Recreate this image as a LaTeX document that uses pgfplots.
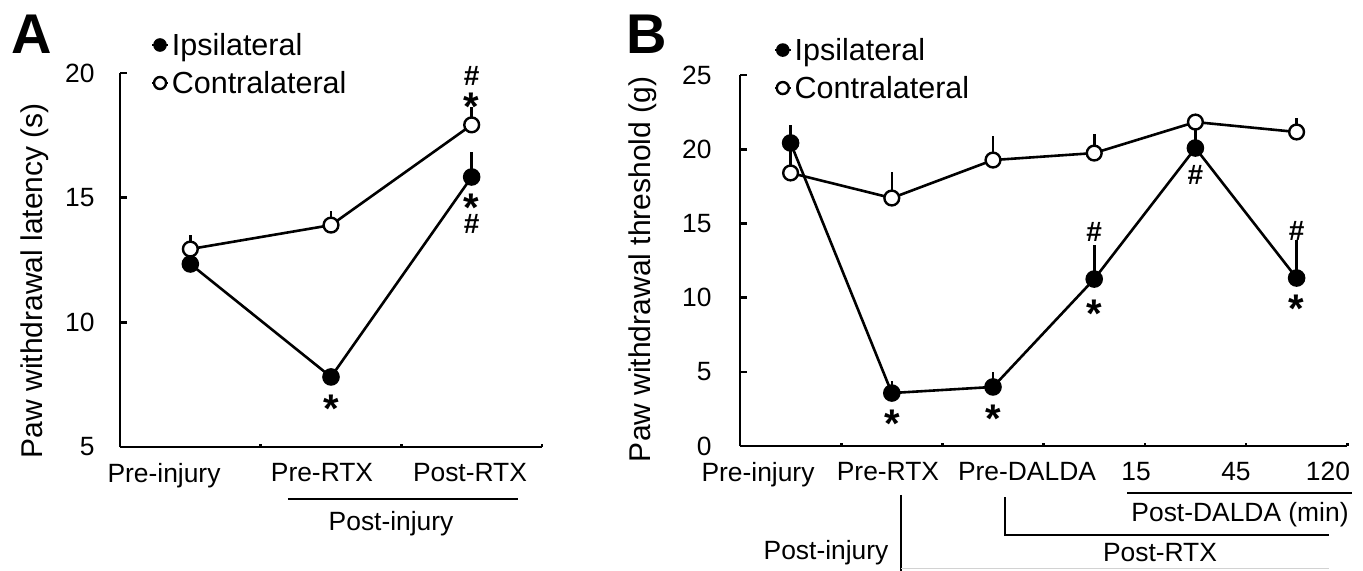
\documentclass[border=0pt]{standalone}
\usepackage{fontspec}
\setmainfont{Liberation Sans}
\usepackage{pgfplots}
\pgfplotsset{compat=1.18}
\newcommand{\tickfont}{\fontsize{13.2}{15}\selectfont}
\newcommand{\labfont}{\fontsize{15}{18}\selectfont}
\tikzset{
  star/.style={font=\fontsize{20}{20}\selectfont\bfseries, inner sep=0pt, anchor=center, yshift=-4.3pt},
  hash/.style={font=\fontsize{14}{14}\selectfont\bfseries, inner sep=0pt, anchor=center},
}
\begin{document}
\begin{tikzpicture}
\pgfplotsset{
  common/.style={
    scale only axis,
    axis lines=left,
    axis line style={-, line width=1.3pt},
    tick align=inside,
    tick style={line width=1.3pt, black},
    major tick length=3.5pt,
    minor tick length=1.6pt,
    clip=false,
    /pgf/number format/assume math mode=true,
    tick label style={font=\tickfont},
    label style={font=\labfont},
    major x tick style={draw=none},
    xticklabel style={yshift=-4.5pt},
    legend style={draw=none, fill=none, inner sep=0pt, outer sep=0pt,
      font=\fontsize{15.25}{18}\selectfont, row sep=5pt, column sep=1.5pt,
      nodes={inner sep=0pt, text height=12pt, text depth=2pt}},
    legend cell align=left,
    legend image code/.code={
      \draw[black, line width=0.8pt] (0pt,0pt) -- (8pt,0pt);
      \draw[##1, mark size=3pt] plot coordinates {(4pt,0pt)};
    },
  },
  ipsi/.style={black, line width=1.3pt, mark=*, mark size=4pt,
    mark options={solid, fill=black, line width=0.8pt},
    error bars/.cd, y dir=plus, y explicit, error mark=-,
    error bar style={line width=1.3pt},
    error mark options={line width=1.3pt, mark size=1.4pt}},
  contra/.style={black, line width=1.3pt, mark=*, mark size=3.7pt,
    mark options={solid, fill=white, draw=black, line width=1.2pt},
    error bars/.cd, y dir=plus, y explicit, error mark=-,
    error bar style={line width=1.3pt},
    error mark options={line width=1.3pt, mark size=1.4pt}},
}

% ---------------- Panel A ----------------
\begin{axis}[common,
  at={(60pt,61.5pt)}, anchor=south west,
  width=211pt, height=187pt,
  xmin=0.5, xmax=3.5, ymin=5, ymax=20,
  ytick={5,10,15,20},
  xtick={0.813,1.936,2.988},
  xticklabels={Pre-injury,Pre-RTX,Post-RTX},
  minor xtick={1.5,2.5,3.5},
  yticklabel style={xshift=-9.2pt},
  ylabel={Paw withdrawal latency (s)},
  ylabel style={at={(axis description cs:-0.1848,0.445)}, anchor=base},
  legend style={at={(axis description cs:0.074,1.1123)}, anchor=north west},
]
\addplot+[ipsi] coordinates {
  (1,12.34) +- (0,0.3)
  (2,7.81)  +- (0,0.2)
  (3,15.83) +- (0,0.88)
};
\addlegendentry{Ipsilateral}
\addplot+[contra] coordinates {
  (1,12.94) +- (0,0.44)
  (2,13.90) +- (0,0.45)
  (3,17.92) +- (0,0.60)
};
\addlegendentry{Contralateral}
\node[star] at (axis cs:2,6.88) {*};
\node[star] at (axis cs:3,18.98) {*};
\node[hash] at (axis cs:3,19.88) {\#};
\node[star] at (axis cs:3,14.95) {*};
\node[hash] at (axis cs:3,13.93) {\#};
\draw[line width=1pt] (axis cs:1.694,2.914) -- (axis cs:3.329,2.914);
\node[anchor=base, font=\tickfont, inner sep=0pt] at (axis cs:2.427,1.671) {Post-injury};
\node[anchor=base west, font=\fontsize{28}{28}\selectfont\bfseries, inner sep=0pt] at (axis description cs:-0.258,1.0535) {A};
\end{axis}

% ---------------- Panel B ----------------
\begin{axis}[common,
  at={(370pt,62pt)}, anchor=south west,
  width=303.6pt, height=185.5pt,
  xmin=0.5, xmax=6.5, ymin=0, ymax=25,
  ytick={0,5,10,15,20,25},
  xtick={0.678,1.962,3.336,4.413,5.401,6.310},
  xticklabels={Pre-injury,Pre-RTX,Pre-DALDA,15,45,120},
  minor xtick={1.5,2.5,3.5,4.5,5.5,6.5},
  yticklabel style={xshift=-10.7pt},
  ylabel={Paw withdrawal threshold (g)},
  ylabel style={at={(axis description cs:-0.148,0.476)}, anchor=base},
  legend style={at={(axis description cs:0.056,1.105)}, anchor=north west},
]
\addplot+[ipsi] coordinates {
  (1,20.42) +- (0,1.0)
  (2,3.57)  +- (0,0.6)
  (3,3.98)  +- (0,0.8)
  (4,11.25) +- (0,2.1)
  (5,20.08) +- (0,1.3)
  (6,11.32) +- (0,2.36)
};
\addlegendentry{Ipsilateral}
\addplot+[contra] coordinates {
  (1,18.40) +- (0,1.6)
  (2,16.71) +- (0,1.55)
  (3,19.27) +- (0,1.42)
  (4,19.74) +- (0,1.08)
  (5,21.83) +- (0,0.25)
  (6,21.16) +- (0,0.74)
};
\addlegendentry{Contralateral}
\node[star] at (axis cs:2,2.09) {*};
\node[star] at (axis cs:3,2.43) {*};
\node[star] at (axis cs:4,9.50) {*};
\node[hash] at (axis cs:4,14.42) {\#};
\node[hash] at (axis cs:5,18.26) {\#};
\node[star] at (axis cs:6,9.84) {*};
\node[hash] at (axis cs:6,14.49) {\#};
\draw[line width=1pt] (axis cs:4.324,-3.17) -- (axis cs:6.547,-3.17);
\node[anchor=base, font=\tickfont, inner sep=0pt] at (axis cs:5.441,-5.12) {Post-DALDA (min)};
\draw[line width=1pt] (axis cs:3.119,-3.44) -- (axis cs:3.119,-6.00) -- (axis cs:6.320,-6.00);
\node[anchor=base, font=\tickfont, inner sep=0pt] at (axis cs:4.650,-7.75) {Post-RTX};
\draw[line width=1pt] (axis cs:2.091,-3.30) -- (axis cs:2.091,-8.6);
\draw[line width=0.6pt, gray!35] (axis cs:2.091,-8.25) -- (axis cs:6.32,-8.25);
\node[anchor=base, font=\tickfont, inner sep=0pt] at (axis cs:1.350,-7.68) {Post-injury};
\node[anchor=base west, font=\fontsize{28}{28}\selectfont\bfseries, inner sep=0pt] at (axis description cs:-0.188,1.059) {B};
\end{axis}
\pgfresetboundingbox
\path[use as bounding box] (0,0) rectangle (681.5pt,285pt);
\end{tikzpicture}
\end{document}
